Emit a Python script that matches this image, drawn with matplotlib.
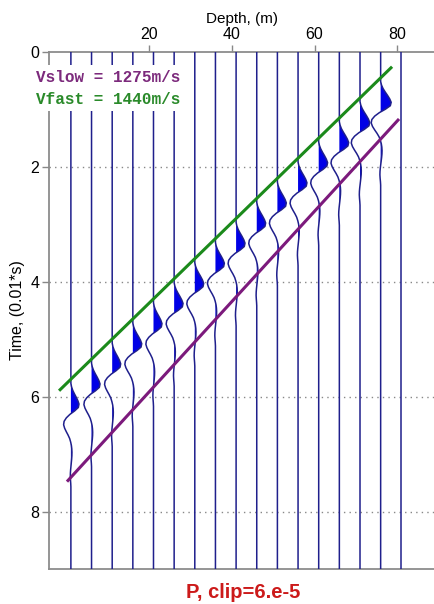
import matplotlib
matplotlib.use("Agg")
import matplotlib.pyplot as plt

plt.rcParams['font.family'] = ['Liberation Sans', 'DejaVu Sans']

# receiver depths (m) of the 17 traces
trace_depth = [1, 6, 11, 16, 21, 26, 31, 36, 41, 46, 51, 56, 61, 66, 71, 76, 81]
# onset time (0.01 s) of the first-break wavelet on traces 0..15
onset_time = [5.77, 5.42, 5.07, 4.72, 4.37, 4.02, 3.67, 3.32, 2.97, 2.62,
              2.27, 1.92, 1.57, 1.22, 0.87, 0.52]
# peak deflection of each wavelet, in depth units
peak_amp = [2.0, 2.1, 2.1, 2.2, 2.1, 2.2, 2.2, 2.2, 2.2, 2.2,
            2.2, 2.2, 2.2, 2.3, 2.4, 2.6]

# wavelet samples (time after onset, normalised amplitude)
wave_t = [0.00, 0.06, 0.12, 0.18, 0.24, 0.30, 0.36, 0.42, 0.48, 0.54,
          0.60, 0.66, 0.72, 0.78, 0.84, 0.90, 0.96, 1.02, 1.08, 1.14,
          1.20, 1.26, 1.32, 1.38, 1.44, 1.50, 1.56, 1.62, 1.68, 1.74, 1.80]
wave_a = [0.00, 0.08, 0.22, 0.42, 0.64, 0.84, 0.98, 0.90, 0.45, -0.12,
          -0.55, -0.82, -0.88, -0.76, -0.56, -0.34, -0.15, -0.03, 0.06, 0.11,
          0.13, 0.12, 0.09, 0.05, 0.01, -0.03, -0.06, -0.07, -0.05, -0.02, 0.00]

# moveout lines
fast_depth = [-1.6, 78.5]
fast_time = [5.88, 0.28]
slow_depth = [0.3, 80.2]
slow_time = [7.46, 1.19]

t_end = 9.0

fig = plt.figure(figsize=(4.35, 6.04), dpi=100)
ax = fig.add_axes([49 / 435, 35 / 604, 387 / 435, 517.3 / 604])

# traces
for i, z in enumerate(trace_depth):
    if i < len(onset_time):
        tt = [0.0] + [onset_time[i] + w for w in wave_t] + [t_end]
        xx = [z] + [z + peak_amp[i] * a for a in wave_a] + [z]
        ax.fill_betweenx(tt, z, xx, where=[x > z for x in xx], interpolate=True,
                         color='#0000e6', lw=0, zorder=2)
    else:
        tt = [0.0, t_end]
        xx = [z, z]
    ax.plot(xx, tt, color='#1f1f8c', lw=1.1, zorder=3)

ax.plot(fast_depth, fast_time, color='#1b8a1b', lw=2.2, zorder=4)
ax.plot(slow_depth, slow_time, color='#7c1a7c', lw=2.2, zorder=4)

ax.set_xlim(-4.3, 89.4)
ax.set_ylim(t_end, 0)

ax.xaxis.tick_top()
ax.xaxis.set_label_position('top')
ax.set_xticks([20, 40, 60, 80])
ax.set_yticks([0, 2, 4, 6, 8])
ax.set_xlabel('Depth, (m)', fontsize=11, labelpad=3)
ax.set_ylabel('Time, (0.01*s)', fontsize=11.5, labelpad=4)
ax.tick_params(length=5, width=1, color='#888888', labelsize=11.5, pad=2)

for y in [2, 4, 6, 8]:
    ax.axhline(y, color='#888888', lw=1, ls=(0, (1, 3)), zorder=1)

for side in ['left', 'top', 'bottom']:
    ax.spines[side].set_color('#8c8c8c')
    ax.spines[side].set_linewidth(1.3)
ax.spines['right'].set_visible(False)

fig.text(36 / 435, 1 - 77 / 604, 'Vslow = 1275m/s', va='center', ha='left',
         family='Liberation Mono', weight='bold', fontsize=11.5, color='#7c2a7c',
         bbox=dict(fc='white', ec='none', pad=3), zorder=10)
fig.text(36 / 435, 1 - 99 / 604, 'Vfast = 1440m/s', va='center', ha='left',
         family='Liberation Mono', weight='bold', fontsize=11.5, color='#2a8a2a',
         bbox=dict(fc='white', ec='none', pad=3), zorder=10)

fig.text(243 / 435, 1 - 592 / 604, 'P, clip=6.e-5', ha='center', va='center',
         fontsize=14.5, weight='bold', color='#cc1a1a')

fig.savefig('out.png', dpi=100)
